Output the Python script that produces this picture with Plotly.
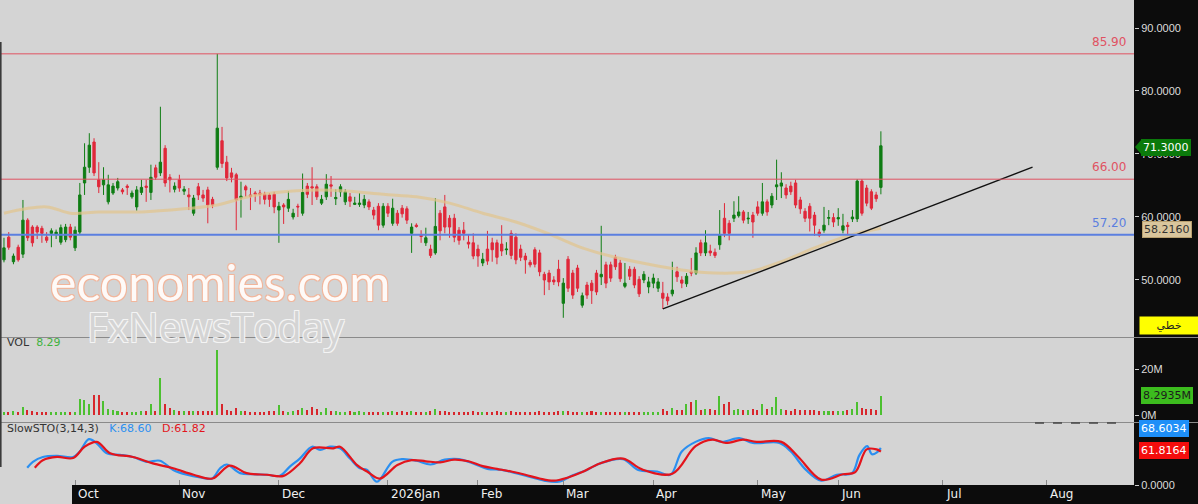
import plotly.graph_objects as go
from plotly.subplots import make_subplots

# ---------------- data ----------------
ohlc = [
(53.2,56.7,52.8,55.1),(56.8,57.6,54.8,55.2),(52.9,54.2,52.5,53.8),(55.2,55.6,52.9,53.2),(54.1,62.7,53.5,59.5),
(59.5,59.8,56.2,56.7),(58.4,58.7,55.3,55.9),(58.4,58.7,56.5,57.6),(58.2,58.6,55.9,57.4),(56.8,57.6,55.9,56.3),
(57.4,58.2,55.2,57.8),(57.3,58.0,56.5,57.6),(56.0,58.8,55.6,58.3),(56.4,58.9,56.0,58.4),(58.4,58.9,56.3,56.8),
(55.1,58.5,54.6,57.9),(57.6,65.4,57.2,63.5),(65.4,71.7,63.5,67.9),(67.9,73.3,67.0,71.4),(71.9,72.5,66.5,67.0),
(65.9,68.7,63.8,64.8),(65.1,67.9,63.5,65.9),(62.4,66.7,62.0,65.1),(63.8,65.4,63.5,64.9),(64.6,66.2,64.2,65.6),
(64.3,64.6,63.6,64.0),(64.9,65.2,63.5,64.7),(63.2,64.2,62.9,63.8),(61.6,64.9,61.0,64.3),(63.9,65.9,63.5,64.7),
(64.9,65.9,62.4,64.7),(63.9,68.3,62.7,66.3),(67.8,68.3,65.9,66.3),(67.0,77.5,66.5,68.7),(70.9,71.4,64.8,65.4),
(66.3,66.8,63.9,65.9),(64.4,65.5,63.9,64.9),(65.9,66.7,64.0,64.6),(64.1,64.9,63.5,64.4),(63.5,64.6,61.1,63.2),
(60.6,63.5,60.2,63.0),(64.8,65.4,62.7,63.5),(63.5,64.3,62.4,63.0),(64.3,64.8,59.0,61.9),(62.8,63.2,61.4,61.9),
(67.9,85.9,67.5,74.1),(72.1,74.3,67.8,68.5),(68.7,69.7,65.7,66.2),(67.0,67.8,65.5,66.3),(66.7,67.0,57.9,62.7),
(63.0,65.6,59.9,63.3),(64.8,65.1,63.2,64.3),(63.5,64.6,61.1,63.3),(63.8,64.1,62.4,63.6),(63.8,64.3,62.0,63.6),
(63.6,64.0,62.0,62.8),(63.5,63.8,61.6,62.8),(63.6,64.0,60.6,61.6),(61.1,62.4,55.9,61.7),(61.9,62.2,58.9,61.6),
(61.4,64.1,60.8,62.8),(60.0,61.3,59.6,60.6),(61.7,62.1,60.0,61.6),(60.6,66.9,60.2,63.9),(64.9,65.4,63.0,63.6),
(64.8,67.9,61.9,64.6),(64.8,65.2,62.7,63.2),(62.2,63.5,61.9,62.8),(63.2,66.8,62.7,65.2),(65.1,66.5,63.2,64.9),
(62.9,64.4,61.9,63.1),(64.0,65.2,63.2,64.8),(62.4,64.4,61.9,64.0),(63.2,63.8,61.6,62.5),(62.0,63.2,61.9,62.2),
(62.0,63.8,61.6,62.2),(61.9,63.5,61.4,62.8),(62.4,62.8,61.1,61.6),(61.1,61.6,59.6,60.3),(61.7,62.2,57.9,58.7),
(58.7,62.2,58.3,61.7),(61.7,62.2,60.0,60.6),(59.0,62.9,58.6,61.4),(60.6,61.1,58.6,59.0),(61.4,61.9,59.9,60.5),
(61.3,61.7,58.9,59.5),(57.4,59.0,54.3,58.4),(58.7,59.0,58.3,58.5),(57.1,57.9,55.9,56.9),(55.9,58.3,55.4,56.7),
(54.9,55.6,53.5,53.9),(54.3,63.0,54.0,58.5),(60.6,61.1,56.3,57.8),(61.6,63.5,57.4,58.4),(59.8,60.3,56.7,58.4),
(59.8,60.5,56.0,56.8),(57.9,58.4,55.6,56.3),(57.9,59.2,56.3,57.4),(56.0,57.2,55.0,55.7),(55.9,57.4,53.3,53.8),
(54.9,55.6,52.1,53.8),(52.7,54.3,52.2,53.3),(54.9,57.8,52.4,53.0),(55.9,56.7,52.9,54.8),(55.9,56.4,52.5,53.6),
(55.7,58.7,53.8,54.6),(54.8,56.0,54.0,54.9),(57.4,57.9,53.3,53.9),(56.8,57.4,52.5,53.2),(54.9,55.6,53.0,53.6),
(53.8,54.3,51.0,53.2),(52.8,53.2,52.0,52.4),(54.8,55.2,52.0,52.5),(54.3,54.8,50.6,51.3),(50.9,51.3,47.6,50.0),
(51.1,51.6,48.4,49.7),(50.0,50.6,49.2,49.7),(51.7,53.2,49.0,49.7),(46.3,50.3,44.0,49.5),(53.3,53.8,48.1,48.7),
(51.1,51.6,47.0,47.6),(51.9,52.4,48.1,48.7),(46.0,48.0,45.6,47.5),(49.2,49.7,47.0,47.6),(49.5,50.0,46.2,48.3),
(51.1,51.6,47.6,48.1),(50.5,58.6,49.2,50.9),(52.4,52.9,48.7,49.5),(52.4,52.9,49.7,50.3),(53.6,54.0,51.6,52.1),
(52.7,53.2,49.7,50.2),(49.0,52.7,48.7,49.5),(51.7,52.2,50.0,50.6),(51.7,52.1,48.7,49.2),(50.1,50.6,47.3,47.8),
(50.0,51.4,49.5,50.9),(48.9,50.5,47.9,49.7),(49.5,51.0,48.7,50.3),(48.7,50.3,48.1,49.7),(47.9,49.7,45.4,47.1),
(47.3,47.9,46.0,46.7),(47.8,52.9,47.4,48.4),(51.3,52.1,49.7,50.5),(50.0,50.6,48.7,49.5),(49.4,51.1,48.9,50.6),
(51.3,53.5,50.6,51.1),(51.1,55.2,50.8,54.3),(55.9,56.4,53.8,54.3),(54.3,57.9,53.8,55.9),(54.6,55.6,53.8,54.3),
(54.4,55.0,53.5,53.9),(55.6,61.1,54.8,57.1),(59.8,62.2,56.8,57.4),(59.0,59.5,56.3,57.4),(59.8,62.5,59.2,60.3),
(60.2,63.3,59.9,60.8),(60.8,61.1,59.0,59.5),(59.7,60.8,58.9,59.8),(60.3,60.8,56.7,59.2),(61.6,62.5,60.2,60.6),
(60.6,65.4,60.2,62.4),(62.4,62.8,60.2,60.8),(61.9,63.8,61.4,63.3),(64.8,69.1,62.7,65.1),(64.9,67.1,63.0,65.4),
(64.6,65.2,62.9,63.5),(64.9,65.6,63.5,64.0),(65.4,65.9,61.4,61.9),(62.7,63.2,60.5,61.3),(60.9,61.4,59.2,59.8),
(61.7,62.2,57.7,59.8),(60.3,60.8,57.0,58.7),(57.6,58.1,56.8,57.1),(57.9,61.6,57.5,58.7),(59.8,61.1,58.7,59.9),
(59.9,60.6,58.4,59.2),(59.7,61.4,58.6,59.9),(57.9,60.5,57.4,58.6),(58.7,59.2,57.0,58.5),(59.7,61.1,59.2,60.0),
(59.7,66.0,59.2,65.7),(65.7,66.0,60.2,60.6),(64.6,65.1,61.7,62.2),(64.0,64.4,61.1,61.4),(63.5,64.0,62.4,62.9),
(64.7,73.6,63.6,71.3),
]
opens = [r[0] for r in ohlc]
highs = [r[1] for r in ohlc]
lows = [r[2] for r in ohlc]
closes = [r[3] for r in ohlc]
bar_idx = list(range(len(ohlc)))

volume_m = [
1.2,1.5,1.9,1.2,3.4,2.2,1.6,1.5,1.5,1.5, 1.2,1.2,1.5,1.5,1.2,1.2,7.1,6.4,4.9,8.9,
8.9,5.9,2.7,2.2,1.9,1.2,1.5,1.2,1.2,1.6, 1.9,4.9,1.9,16.0,4.9,3.1,2.2,1.6,1.6,1.6,
1.6,1.6,1.9,1.9,1.9,28.1,4.9,2.2,1.9,3.1, 1.6,1.6,1.5,1.5,1.5,1.5,1.6,1.9,4.4,1.6,
1.5,1.9,2.2,3.1,2.2,3.4,2.7,1.5,3.1,1.6, 1.9,1.5,1.5,1.6,1.2,1.6,1.5,1.2,1.2,1.5,
1.5,1.2,1.6,1.5,1.6,1.4,1.8,1.3,1.5,1.4, 1.6,2.4,1.8,1.6,1.5,1.4,1.5,1.3,1.5,1.6,
1.4,1.3,1.5,1.4,1.6,1.5,1.3,1.6,1.5,1.4, 1.3,1.5,1.4,1.6,1.5,1.4,1.5,1.6,1.8,1.6,
1.5,1.4,1.5,1.4,1.6,1.5,1.5,1.5,1.5,1.5, 1.5,1.5,1.5,1.5,1.5,1.5,1.5,1.5,1.5,2.7,
1.7,3.0,2.1,2.1,4.6,5.8,6.4,2.1,2.7,2.7, 2.1,8.3,4.6,5.5,2.1,2.7,2.1,2.1,2.5,2.1,
4.6,2.7,3.3,7.9,2.7,2.1,1.7,2.7,2.1,2.1, 2.1,2.1,1.7,1.7,1.7,1.7,1.7,1.7,2.1,2.7,
5.8,3.0,2.5,2.5,2.1,8.29,
]

ma_idx = [0, 9, 14, 20, 29, 38, 45, 52, 59, 66, 73, 80, 87, 94, 101, 108, 115, 122, 129, 136, 143, 150, 157, 164, 171, 178, 185]
ma_val = [60.6, 61.6, 60.6, 60.8, 60.8, 61.3, 61.9, 63.3, 64.0, 64.3, 64.1, 63.6, 63.2, 62.2, 60.6, 59.2, 57.3, 55.1, 53.6, 52.5, 51.6, 51.1, 51.3, 52.9, 55.1, 57.0, 58.2]

k_idx = [4.9, 6.1, 8.2, 11.2, 14.6, 16, 17.9, 19.6, 21.7, 24.5, 27.2, 30.2, 32.9, 35.7, 38.6, 41.4, 43.9, 45.6, 47, 49.8,
         52.5, 55.5, 58.2, 60.3, 62.4, 65, 66.7, 68.8, 70.9, 73, 75.1, 76.6, 78.7, 81.9, 84, 87, 90, 93, 96, 99, 102, 105,
         108, 111, 114, 117, 120, 123, 125.7, 130.6, 133.8, 137.8, 140.6, 143, 145.9, 148.7, 151.5, 155.1, 158, 163.6,
         166, 169.2, 172.4, 175.7, 178.9, 180.5, 182.1, 183.1, 184.1, 185]
k_val = [32, 43, 52, 54, 52, 62, 85, 77, 59, 56, 52, 43, 45, 28, 19, 14, 12, 31, 38, 22,
         20, 19, 17, 34, 49, 71, 65, 71, 68, 49, 31, 28, 6, 43, 48, 45, 38, 47, 48, 40, 30, 28,
         22, 15, 8, 6, 18, 28, 40, 48, 28, 25, 19, 62, 80, 87, 80, 87, 78, 78,
         62, 28, 8, 19, 22, 56, 72, 57, 60, 68.6]
d_idx = [6.5, 8.2, 11.2, 14.6, 17, 19.6, 22.4, 27.2, 31.4, 35.7, 40, 44, 47.6, 51.2, 55.5, 59, 62.4, 65.2, 69.5, 70.9,
         74.5, 76.6, 79.3, 83, 86, 89, 92, 95, 98, 101, 104, 107, 110, 113, 116, 119, 122, 125.7, 130.6, 134.6, 141,
         145.9, 149.5, 152.3, 155.9, 158.8, 164, 167.6, 172.4, 177, 179.6, 182, 184.1, 185]
d_val = [32, 46, 52, 50, 71, 80, 59, 52, 40, 31, 19, 12, 36, 22, 19, 17, 40, 68, 68, 71,
         37, 25, 12, 37, 46, 44, 42, 47, 44, 35, 30, 25, 19, 12, 8, 14, 24, 40, 49, 29, 21,
         72, 84, 78, 84, 80, 80, 52, 10, 20, 24, 66, 66, 61.8]

month_labels = ["Oct", "Nov", "Dec", "2026Jan", "Feb", "Mar", "Apr", "May", "Jun", "Jul", "Aug"]
month_pos = [15, 37, 58, 81, 100, 118, 137, 159, 176, 198, 220]

level_values = [85.90, 66.00, 57.20]
level_colors = ["#e05262", "#e05262", "#5b7fe0"]
level_widths = [1, 1, 2]
trend_idx = [139, 217]
trend_val = [45.4, 67.9]

last_close = 71.3000
last_ma = 58.2160
last_vol = "8.2935M"
last_k = 68.6034
last_d = 61.8164

# ---------------- figure ----------------
W, H = 1198, 504
PW = 1134          # plot width in px
PH = 485           # plot height in px
BG = "#d4d4d4"
GREEN = "#0f7d14"
RED = "#e0283a"


def X(px):
    return px / PW


def Y(py):
    return (PH - py) / PH


fig = make_subplots(rows=3, cols=1, shared_xaxes=True, vertical_spacing=0.0)

fig.add_trace(go.Candlestick(
    x=bar_idx, open=opens, high=highs, low=lows, close=closes,
    increasing=dict(line=dict(color=GREEN, width=1), fillcolor=GREEN),
    decreasing=dict(line=dict(color=RED, width=1), fillcolor=RED),
    whiskerwidth=0, showlegend=False, hoverinfo="skip"), row=1, col=1)

fig.add_trace(go.Scatter(x=ma_idx, y=ma_val, mode="lines",
                         line=dict(color="rgba(226,196,140,0.7)", width=3, shape="spline"),
                         showlegend=False, hoverinfo="skip"), row=1, col=1)

fig.add_trace(go.Scatter(x=trend_idx, y=trend_val, mode="lines",
                         line=dict(color="#111111", width=1.3),
                         showlegend=False, hoverinfo="skip"), row=1, col=1)

vol_colors = ["#4cc030" if c >= o else "#d8262c" for o, c in zip(opens, closes)]
fig.add_trace(go.Bar(x=bar_idx, y=[v * 1e6 for v in volume_m], marker=dict(color=vol_colors, line=dict(width=0)),
                     width=0.32, showlegend=False, hoverinfo="skip"), row=2, col=1)

fig.add_trace(go.Scatter(x=k_idx, y=k_val, mode="lines",
                         line=dict(color="#2b8ff0", width=2.2, shape="spline"),
                         showlegend=False, hoverinfo="skip"), row=3, col=1)
fig.add_trace(go.Scatter(x=d_idx, y=d_val, mode="lines",
                         line=dict(color="#e3141c", width=2.2, shape="spline"),
                         showlegend=False, hoverinfo="skip"), row=3, col=1)

xrange = [-0.84, 238.4]
axfont = dict(family="Liberation Sans, Arial", size=11, color="#dcdcdc")
for i in (1, 2, 3):
    fig.update_xaxes(row=i, col=1, range=xrange, showgrid=False, zeroline=False,
                     rangeslider=dict(visible=False), showticklabels=False,
                     showline=False, ticks="")
fig.update_xaxes(row=3, col=1, ticks="inside", tickvals=month_pos, ticklen=5,
                 tickcolor="#888888", tickwidth=1)

fig.update_yaxes(row=1, col=1, domain=[Y(337), 1.0], range=[40.95, 94.444], side="right",
                 tickvals=[50, 60, 70, 80, 90], ticktext=["50.0000", "60.0000", "70.0000", "80.0000", "90.0000"],
                 ticks="outside", ticklen=4, tickcolor="#cccccc", tickfont=axfont,
                 showgrid=False, zeroline=False)
fig.update_yaxes(row=2, col=1, domain=[Y(422), Y(338)], range=[-3.04e6, 33.48e6], side="right",
                 tickvals=[0, 20e6], ticktext=["0M", "20M"],
                 ticks="outside", ticklen=4, tickcolor="#cccccc", tickfont=axfont,
                 showgrid=False, zeroline=False)
fig.update_yaxes(row=3, col=1, domain=[0, Y(423)], range=[0, 115], side="right",
                 tickvals=[0], ticktext=["0.0000"],
                 ticks="outside", ticklen=4, tickcolor="#cccccc", tickfont=axfont,
                 showgrid=False, zeroline=False)

shapes = []
shapes.append(dict(type="rect", xref="paper", yref="paper", x0=0, x1=X(72), y0=Y(504), y1=0,
                   fillcolor=BG, line=dict(width=0), layer="below"))
for v, c, w in zip(level_values, level_colors, level_widths):
    shapes.append(dict(type="line", xref="paper", yref="y", x0=0, x1=1, y0=v, y1=v,
                       line=dict(color=c, width=w)))
for py in (337.5, 422.5):
    shapes.append(dict(type="line", xref="paper", yref="paper", x0=0, x1=W / PW, y0=Y(py), y1=Y(py),
                       line=dict(color="#8a8a8a", width=1)))
shapes.append(dict(type="line", xref="paper", yref="paper", x0=X(1035), x1=X(1120), y0=Y(423), y1=Y(423),
                   line=dict(color="#444444", width=1.5, dash="dash")))
shapes.append(dict(type="line", xref="paper", yref="paper", x0=X(0.8), x1=X(0.8), y0=Y(42), y1=Y(467),
                   line=dict(color="#3a3a3a", width=1.6)))
shapes.append(dict(type="path", xref="paper", yref="paper",
                   path=f"M {X(1135)} {Y(147)} L {X(1141)} {Y(140)} L {X(1141)} {Y(154)} Z",
                   fillcolor="#0b7a0b", line=dict(width=0)))

ann = []
lab_font = dict(family="DejaVu Sans, Verdana", size=12)
for v, c, t in zip(level_values, level_colors, ["85.90", "66.00", "57.20"]):
    ann.append(dict(xref="paper", yref="y", x=X(1128), y=v, text=t, showarrow=False,
                    xanchor="right", yanchor="bottom", yshift=3,
                    font=dict(lab_font, color=c)))

for lbl, pos in zip(month_labels, month_pos):
    ann.append(dict(xref="x3", yref="paper", x=pos, y=Y(494.5), text=lbl, showarrow=False,
                    xanchor="left", yanchor="middle", xshift=1,
                    font=dict(family="DejaVu Sans, Verdana", size=12, color="#f0f0f0")))

small = dict(family="DejaVu Sans, Verdana", size=11)
ann.append(dict(xref="paper", yref="paper", x=X(5), y=Y(343), xanchor="left", yanchor="middle",
                showarrow=False, font=dict(small, color="#333333"),
                text="VOL  <span style='color:#3fb23f'>8.29</span>"))
ann.append(dict(xref="paper", yref="paper", x=X(5), y=Y(428), xanchor="left", yanchor="middle",
                showarrow=False, font=dict(small, color="#333333"),
                text="SlowSTO(3,14,3)   <span style='color:#2b8ff0'>K:68.60</span>   "
                     "<span style='color:#e3141c'>D:61.82</span>"))


def badge(text, py, bg, fg, x0=1141, border=None):
    ann.append(dict(xref="paper", yref="paper", x=X(x0), y=Y(py), text=text, showarrow=False,
                    xanchor="left", yanchor="middle", bgcolor=bg, borderpad=1,
                    bordercolor=border or bg, borderwidth=1,
                    font=dict(family="DejaVu Sans, Verdana", size=11, color=fg)))


badge(f"{last_close:.4f}", 147, "#0b7a0b", "#ffffff")
badge(f"{last_ma:.4f}", 229, "#d9c59c", "#333333", x0=1142, border="#b89f6e")
badge(last_vol, 395, "#3cbc1e", "#1c1c1c")
badge(f"{last_k:.4f}", 428, "#1e8ff8", "#ffffff", x0=1139)
badge(f"{last_d:.4f}", 450, "#f40d0d", "#ffffff", x0=1139)
ann.append(dict(xref="paper", yref="paper", x=X(1169), y=Y(325), text="خطي", showarrow=False,
                xanchor="center", yanchor="middle", bgcolor="#ffff00", width=56, height=15,
                font=dict(family="DejaVu Sans", size=11, color="#222222")))

# watermark
ann.append(dict(xref="paper", yref="paper", x=X(220), y=Y(282), text="economies.com", showarrow=False,
                xanchor="center", yanchor="middle",
                font=dict(family="Lato, Open Sans", size=50, color="rgba(255,255,255,0.93)",
                          shadow="-1px -1px 0 #f2b59a, 1px -1px 0 #f2b59a, -1px 1px 0 #f2b59a, 1px 1px 0 #f2b59a")))
ann.append(dict(xref="paper", yref="paper", x=X(216), y=Y(326), text="FxNewsToday", showarrow=False,
                xanchor="center", yanchor="middle",
                font=dict(family="Open Sans, Lato", size=40, color=BG,
                          shadow="-1px -1px 0 #f4f4f4, 1px -1px 0 #f4f4f4, -1px 1px 0 #f4f4f4, 1px 1px 0 #f4f4f4")))

fig.update_layout(width=W, height=H, margin=dict(l=0, r=W - PW, t=0, b=H - PH),
                  paper_bgcolor="#0c0c0c", plot_bgcolor=BG, shapes=shapes, annotations=ann,
                  showlegend=False, bargap=0)

fig.write_html("out.html")
